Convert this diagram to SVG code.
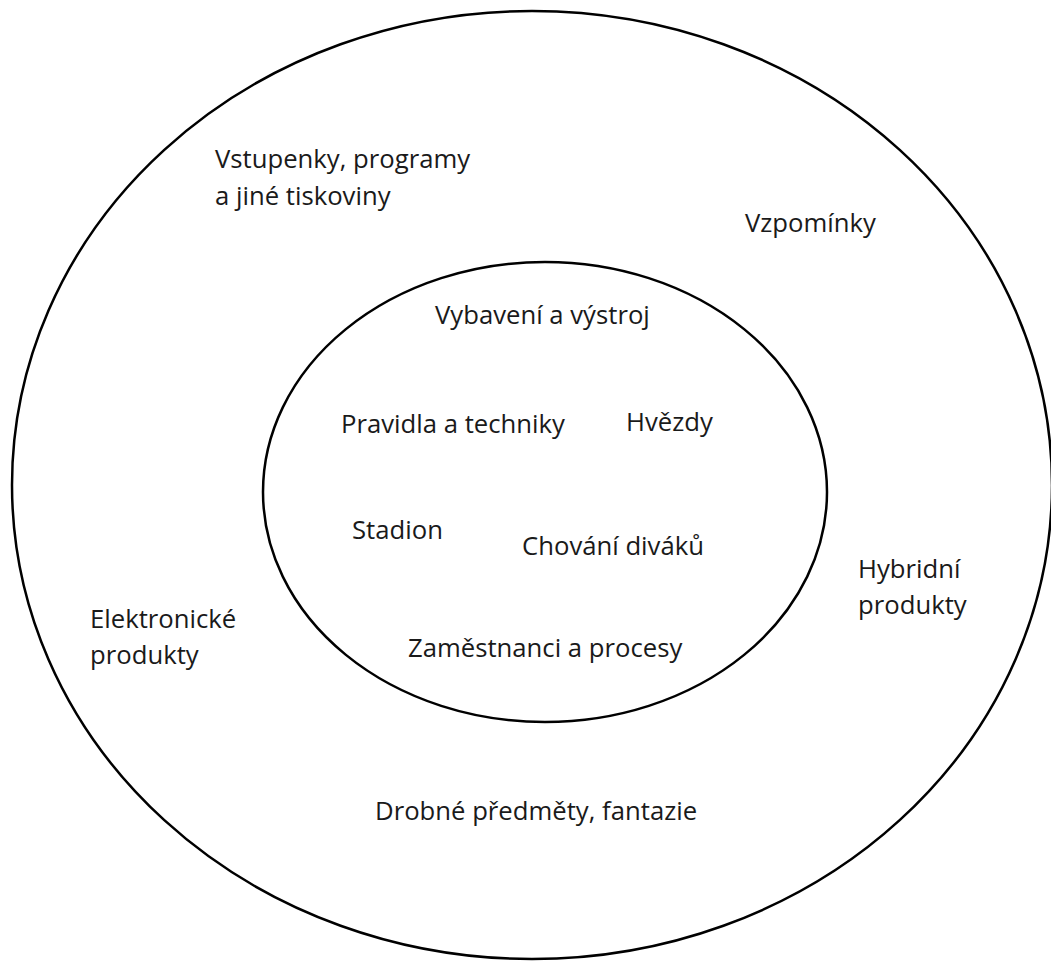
<svg xmlns="http://www.w3.org/2000/svg" width="1051" height="965" viewBox="0 0 1051 965">
<style>
.ring{fill:none;stroke:#000;stroke-width:2.5}
text{font-family:"Open Sans","Noto Sans",sans-serif;font-size:25.7px;fill:#1a1a1a}
</style>
<rect width="1051" height="965" fill="#fff"/>
<g id="outer"><ellipse class="ring" cx="532" cy="485" rx="520" ry="474"/></g>
<g id="inner"><ellipse class="ring" cx="545" cy="492" rx="282" ry="230"/></g>
<g id="labels">
<g id="vstupenky"><text x="215" y="168">Vstupenky, programy</text><text x="215" y="205">a jiné tiskoviny</text></g>
<g id="vzpominky"><text x="745" y="232">Vzpomínky</text></g>
<g id="vybaveni"><text x="435" y="324">Vybavení a výstroj</text></g>
<g id="pravidla"><text x="341" y="433">Pravidla a techniky</text></g>
<g id="hvezdy"><text x="626" y="431">Hvězdy</text></g>
<g id="stadion"><text x="352" y="539">Stadion</text></g>
<g id="chovani"><text x="522" y="555">Chování diváků</text></g>
<g id="hybridni"><text x="858" y="578">Hybridní</text><text x="858" y="614">produkty</text></g>
<g id="elektronicke"><text x="90" y="628">Elektronické</text><text x="90" y="664">produkty</text></g>
<g id="zamestnanci"><text x="408" y="657">Zaměstnanci a procesy</text></g>
<g id="drobne"><text x="375" y="820">Drobné předměty, fantazie</text></g>
</g>
<g id="connectors"></g>
</svg>
